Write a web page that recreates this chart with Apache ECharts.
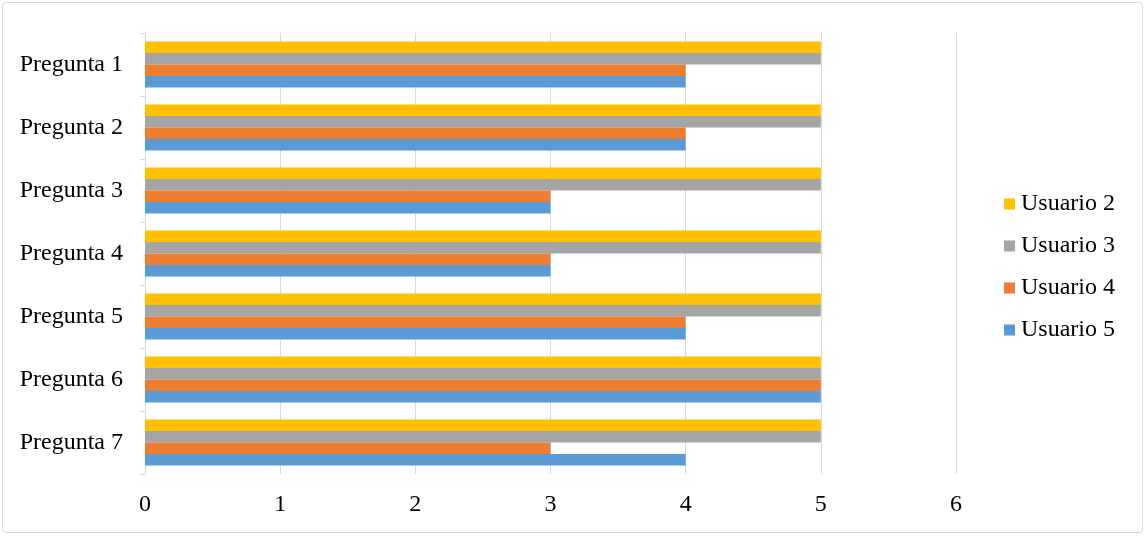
<!DOCTYPE html>
<html><head><meta charset="utf-8">
<script src="https://cdn.jsdelivr.net/npm/echarts@6/dist/echarts.min.js"></script>
<style>
html,body{margin:0;padding:0;background:#fff;}
#frame{position:absolute;left:2px;top:2px;width:1141px;height:531px;border:1px solid #d9d9d9;border-radius:4px;box-sizing:border-box;}
#c{position:absolute;left:0;top:0;width:1147px;height:537px;}
</style></head>
<body>
<div id="frame"></div>
<div id="c"></div>
<script>
const categories = ['Pregunta 1','Pregunta 2','Pregunta 3','Pregunta 4','Pregunta 5','Pregunta 6','Pregunta 7'];
const seriesNames = ['Usuario 2','Usuario 3','Usuario 4','Usuario 5'];
const usuario2 = [5,5,5,5,5,5,5];
const usuario3 = [5,5,5,5,5,5,5];
const usuario4 = [4,4,3,3,4,5,3];
const usuario5 = [4,4,3,3,4,5,4];
const xTicks = [0,1,2,3,4,5,6];
const colors = ['#FFC000','#A5A5A5','#ED7D31','#5B9BD5'];
const values = [usuario2, usuario3, usuario4, usuario5];

const font = 'Liberation Serif';
const chart = echarts.init(document.getElementById('c'));
chart.setOption({
  animation:false,
  color: colors,
  textStyle:{fontFamily:font},
  grid:{left:145, right:191, top:33, bottom:63, containLabel:false},
  legend:{
    orient:'vertical', left:999, top:187,
    data: seriesNames,
    icon:'rect', itemWidth:11, itemHeight:11, itemGap:18,
    textStyle:{fontFamily:font, fontSize:24, color:'#000', padding:[0,0,0,1]}
  },
  xAxis:{
    type:'value', min:xTicks[0], max:xTicks[xTicks.length-1], interval:1,
    axisLine:{show:false}, axisTick:{show:false},
    splitLine:{show:true, lineStyle:{color:'#d9d9d9', width:1}},
    axisLabel:{fontFamily:font, fontSize:24, color:'#000', margin:19}
  },
  yAxis:{
    type:'category', data:categories, inverse:true,
    axisLine:{show:true, lineStyle:{color:'#d9d9d9', width:1}},
    axisTick:{show:true, length:5, lineStyle:{color:'#d9d9d9'}},
    axisLabel:{fontFamily:font, fontSize:24, color:'#000', margin:22}
  },
  series: seriesNames.map((n,i)=>({
    name:n, type:'bar', data:values[i],
    barGap:'0%', barCategoryGap:'27%',
    itemStyle:{color:colors[i]}
  }))
});
</script>
</body></html>
